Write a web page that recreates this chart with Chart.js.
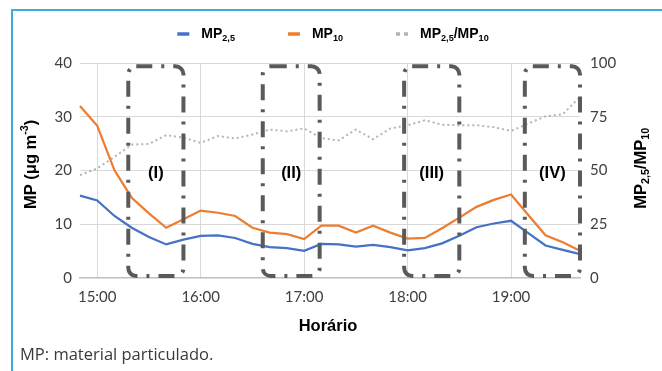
<!DOCTYPE html>
<html>
<head>
<meta charset="utf-8">
<script src="https://cdn.jsdelivr.net/npm/chart.js@4.4.1/dist/chart.umd.min.js"></script>
<style>
  html, body { margin: 0; padding: 0; background: #fff; }
  #wrap { position: relative; width: 662px; height: 371px; }
</style>
</head>
<body>
<div id="wrap"><canvas id="c" width="662" height="371"></canvas></div>
<script>
// Sampling times (10-minute readings)
const times = ['14:50','15:00','15:10','15:20','15:30','15:40','15:50','16:00','16:10','16:20',
               '16:30','16:40','16:50','17:00','17:10','17:20','17:30','17:40','17:50','18:00',
               '18:10','18:20','18:30','18:40','18:50','19:00','19:10','19:20','19:30','19:40'];

// MP2,5 concentration (µg m-3)
const mp25 = [15.3, 14.4, 11.5, 9.3, 7.6, 6.2, 7.1, 7.8, 7.9, 7.4,
              6.3, 5.7, 5.5, 5.0, 6.3, 6.2, 5.8, 6.1, 5.7, 5.1,
              5.5, 6.4, 7.8, 9.4, 10.1, 10.6, 8.3, 6.0, 5.2, 4.4];

// MP10 concentration (µg m-3)
const mp10 = [32.0, 28.3, 20.0, 14.9, 12.0, 9.3, 10.9, 12.5, 12.1, 11.5,
              9.3, 8.4, 8.1, 7.2, 9.7, 9.7, 8.4, 9.7, 8.4, 7.3,
              7.4, 9.2, 11.2, 13.2, 14.5, 15.5, 11.7, 7.9, 6.6, 5.0];

// MP2,5/MP10 ratio (%)
const ratio = [47.8, 50.9, 56.3, 62.0, 62.3, 66.4, 65.2, 62.8, 66.0, 64.8,
               66.7, 69.0, 68.2, 69.5, 65.1, 63.9, 69.0, 64.5, 69.5, 71.0,
               73.3, 71.3, 71.0, 71.0, 70.1, 68.4, 71.8, 75.2, 76.1, 84.2];

// Hour labels shown on the time axis
const hourTicks = ['15:00','16:00','17:00','18:00','19:00'];

// Highlighted periods
const periodNames = ['(I)', '(II)', '(III)', '(IV)'];
const periodStart = ['15:18', '16:36', '17:58', '19:08'];
const periodEnd   = ['15:50', '17:09', '18:30', '19:40'];

const TITLE_FONT = "'Liberation Sans', Arial, sans-serif";
const TICK_FONT = "Lato, 'Liberation Sans', sans-serif";

function toMinutes(t) { const p = t.split(':'); return (+p[0]) * 60 + (+p[1]); }
function timeToIndex(t) { return (toMinutes(t) - toMinutes(times[0])) / 10; }

// Text made of runs: normal, subscript or superscript
function runFont(r, size, weight) {
  const s = r.mode === 'n' ? size : size * 0.65;
  return weight + ' ' + s + 'px ' + TITLE_FONT;
}
function richWidth(ctx, runs, size, weight) {
  let w = 0;
  runs.forEach(r => { ctx.font = runFont(r, size, weight); w += ctx.measureText(r.t).width; });
  return w;
}
function drawRich(ctx, runs, x, y, size, weight, color, angle, align) {
  ctx.save();
  ctx.translate(x, y);
  ctx.rotate(angle || 0);
  ctx.fillStyle = color;
  ctx.textBaseline = 'middle';
  ctx.textAlign = 'left';
  const w = richWidth(ctx, runs, size, weight);
  let cx = align === 'left' ? 0 : -w / 2;
  runs.forEach(r => {
    ctx.font = runFont(r, size, weight);
    let dy = 0;
    if (r.mode === 'sub') dy = size * 0.32;
    if (r.mode === 'sup') dy = -size * 0.38;
    ctx.fillText(r.t, cx, dy);
    cx += ctx.measureText(r.t).width;
  });
  ctx.restore();
  return w;
}

const legendItems = [
  { color: '#4472c4', dotted: false, runs: [{t:'MP', mode:'n'}, {t:'2,5', mode:'sub'}] },
  { color: '#ed7d31', dotted: false, runs: [{t:'MP', mode:'n'}, {t:'10', mode:'sub'}] },
  { color: '#b4b4b4', dotted: true,  runs: [{t:'MP', mode:'n'}, {t:'2,5', mode:'sub'}, {t:'/MP', mode:'n'}, {t:'10', mode:'sub'}] }
];

const decorations = {
  id: 'decorations',
  afterDatasetsDraw(chart) {
    const ctx = chart.ctx;
    const xs = chart.scales.x, ys = chart.scales.y;
    // dash-dot rounded boxes marking the periods
    ctx.save();
    ctx.strokeStyle = '#5a5a5a';
    ctx.lineWidth = 4;
    ctx.setLineDash([16, 9, 3, 9]);
    periodNames.forEach((name, i) => {
      const x0 = xs.getPixelForValue(timeToIndex(periodStart[i]));
      const x1 = xs.getPixelForValue(timeToIndex(periodEnd[i]));
      const y0 = ys.getPixelForValue(39.4);
      const y1 = ys.getPixelForValue(0.3);
      ctx.beginPath();
      ctx.roundRect(x0, y0, x1 - x0, y1 - y0, 8);
      ctx.stroke();
    });
    ctx.restore();
    periodNames.forEach((name, i) => {
      const xm = xs.getPixelForValue((timeToIndex(periodStart[i]) + timeToIndex(periodEnd[i])) / 2);
      drawRich(ctx, [{t:name, mode:'n'}], xm, ys.getPixelForValue(19.4), 16.5, 'bold', '#000', 0);
    });
  },
  afterDraw(chart) {
    const ctx = chart.ctx;
    const area = chart.chartArea;
    // frame
    ctx.save();
    ctx.strokeStyle = '#3eaadd';
    ctx.lineWidth = 2;
    ctx.beginPath();
    ctx.moveTo(12, 371); ctx.lineTo(12, 10); ctx.lineTo(662, 10);
    ctx.stroke();
    ctx.restore();

    // legend
    const ly = 34, mW = 12, mGap = 12, iGap = 53, size = 14;
    const widths = legendItems.map(it => richWidth(ctx, it.runs, size, 'bold'));
    const total = widths.reduce((a, b) => a + b, 0) + legendItems.length * (mW + mGap) + (legendItems.length - 1) * iGap;
    let lx = (area.left + area.right) / 2 + 3 - total / 2;
    legendItems.forEach((it, i) => {
      ctx.save();
      ctx.strokeStyle = it.color;
      ctx.lineWidth = 3.5;
      if (it.dotted) ctx.setLineDash([4, 4]);
      ctx.beginPath(); ctx.moveTo(lx, ly); ctx.lineTo(lx + mW, ly); ctx.stroke();
      ctx.restore();
      lx += mW + mGap;
      drawRich(ctx, it.runs, lx, ly, size, 'bold', '#000', 0, 'left');
      lx += widths[i] + iGap;
    });

    // axis titles
    drawRich(ctx, [{t:'MP (μg m', mode:'n'}, {t:'-3', mode:'sup'}, {t:')', mode:'n'}],
             31, (area.top + area.bottom) / 2 - 6, 16.5, 'bold', '#000', -Math.PI / 2);
    drawRich(ctx, [{t:'MP', mode:'n'}, {t:'2,5', mode:'sub'}, {t:'/MP', mode:'n'}, {t:'10', mode:'sub'}],
             641, (area.top + area.bottom) / 2 - 2, 16.5, 'bold', '#000', -Math.PI / 2);
    drawRich(ctx, [{t:'Horário', mode:'n'}], (area.left + area.right) / 2 - 2, 326, 16.5, 'bold', '#000', 0);

    // note
    ctx.save();
    ctx.fillStyle = '#3a3a3a';
    ctx.font = "16.5px 'Open Sans', sans-serif";
    ctx.textBaseline = 'middle';
    ctx.textAlign = 'left';
    ctx.fillText('MP: material particulado.', 20, 355);
    ctx.restore();
  }
};

new Chart(document.getElementById('c'), {
  type: 'line',
  data: {
    labels: times,
    datasets: [
      { label: 'MP2,5', data: mp25, yAxisID: 'y', borderColor: '#4472c4', borderWidth: 2.25, pointRadius: 0, tension: 0 },
      { label: 'MP10', data: mp10, yAxisID: 'y', borderColor: '#ed7d31', borderWidth: 2.25, pointRadius: 0, tension: 0 },
      { label: 'MP2,5/MP10', data: ratio, yAxisID: 'y1', borderColor: '#b4b4b4', borderWidth: 2,
        borderDash: [2, 3], pointRadius: 0, tension: 0 }
    ]
  },
  options: {
    responsive: false,
    animation: false,
    devicePixelRatio: 1,
    layout: { padding: { top: 63, left: 0, right: 0, bottom: 0 } },
    plugins: { legend: { display: false }, tooltip: { enabled: false } },
    scales: {
      x: {
        type: 'category',
        offset: false,
        afterFit(s) { s.height = 371 - 277.7; },
        border: { display: true, color: '#bfbfbf', width: 1.5 },
        grid: {
          drawTicks: false,
          color: c => (c.tick && hourTicks.includes(times[c.index]) ? '#d9d9d9' : 'rgba(0,0,0,0)')
        },
        ticks: {
          autoSkip: false, maxRotation: 0, padding: 10,
          color: '#404040', font: { family: TICK_FONT, size: 15 },
          callback(v, i) { return hourTicks.includes(times[i]) ? times[i] : ''; }
        }
      },
      y: {
        position: 'left', min: 0, max: 40,
        afterFit(s) { s.width = 80; },
        border: { display: false },
        grid: { drawTicks: false, color: '#d9d9d9' },
        ticks: { stepSize: 10, padding: 8, color: '#404040', font: { family: TICK_FONT, size: 15 } }
      },
      y1: {
        position: 'right', min: 0, max: 100,
        afterFit(s) { s.width = 82; },
        border: { display: false },
        grid: { display: false, drawTicks: false },
        ticks: { stepSize: 25, padding: 10, color: '#404040', font: { family: TICK_FONT, size: 15 } }
      }
    }
  },
  plugins: [decorations]
});
</script>
</body>
</html>
